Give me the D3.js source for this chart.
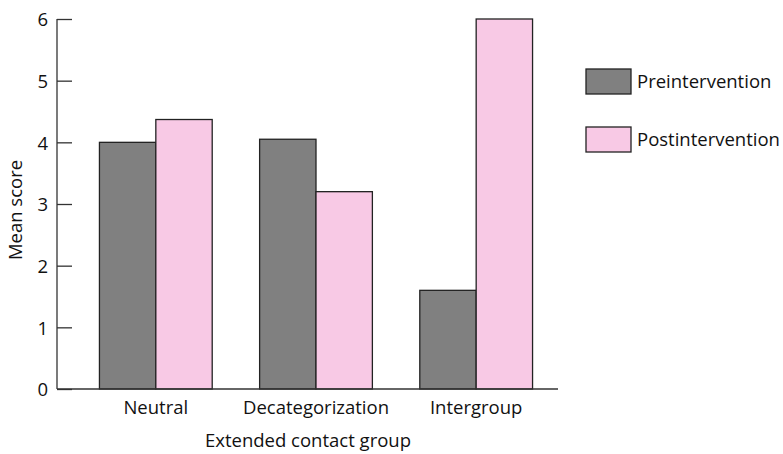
<!DOCTYPE html>
<html><head><meta charset="utf-8">
<script src="https://cdn.jsdelivr.net/npm/d3@7"></script>
<style>body{margin:0;background:#fff}svg text{font-family:"Open Sans",sans-serif;fill:#111}</style>
</head><body><svg id="c" width="783" height="454"></svg>
<script>
const categories = ["Neutral", "Decategorization", "Intergroup"];
const seriesNames = ["Preintervention", "Postintervention"];
const preValues = [4.0, 4.05, 1.6];
const postValues = [4.37, 3.2, 6.0];
const yTicks = [0, 1, 2, 3, 4, 5, 6];
const colors = ["#808080", "#f8c9e5"];
const FS = "18.5px";

const svg = d3.select("#c");
const x0 = 57, x1 = 575, yTop = 19, yBot = 389;
const x = d3.scaleBand().domain(categories).range([x0, x1]).paddingInner(0.296).paddingOuter(0.265);
const xs = d3.scaleBand().domain(seriesNames).range([0, x.bandwidth()]);
const y = d3.scaleLinear().domain([0, 6]).range([yBot, yTop]);

const vals = [preValues, postValues];
const g = svg.append("g");
categories.forEach((c, i) => {
  seriesNames.forEach((s, j) => {
    g.append("rect")
      .attr("x", x(c) + xs(s)).attr("y", y(vals[j][i]))
      .attr("width", xs.bandwidth()).attr("height", y(0) - y(vals[j][i]))
      .attr("fill", colors[j]).attr("stroke", "#222").attr("stroke-width", 1.3);
  });
});

// y axis
const ya = svg.append("g").attr("transform", `translate(${x0},0)`)
  .call(d3.axisRight(y).tickValues(yTicks).tickSize(15).tickFormat(d3.format("d")));
ya.select(".domain").remove();
ya.selectAll(".tick line").attr("stroke", "#333").attr("stroke-width", 1.3);
ya.selectAll(".tick text").attr("x", -9).attr("text-anchor", "end").attr("dy", "0.36em")
  .style("font-size", FS).style("font-family", "'Open Sans', sans-serif");
svg.append("line").attr("x1", x0).attr("x2", x0).attr("y1", yTop).attr("y2", yBot).attr("stroke", "#333").attr("stroke-width", 1.3);
svg.append("line").attr("x1", x0).attr("x2", 558).attr("y1", yBot).attr("y2", yBot).attr("stroke", "#333").attr("stroke-width", 1.3);

// x labels
categories.forEach(c => {
  svg.append("text").attr("x", x(c) + x.bandwidth() / 2).attr("y", 414)
    .attr("text-anchor", "middle").style("font-size", FS).text(c);
});
svg.append("text").attr("x", 308).attr("y", 447).attr("text-anchor", "middle").style("font-size", FS).text("Extended contact group");
svg.append("text").attr("transform", "translate(22,210) rotate(-90)").attr("text-anchor", "middle").style("font-size", FS).text("Mean score");

// legend
const lg = svg.append("g");
seriesNames.forEach((s, j) => {
  const ly = 69 + j * 58;
  lg.append("rect").attr("x", 586).attr("y", ly).attr("width", 45).attr("height", 25)
    .attr("fill", colors[j]).attr("stroke", "#222").attr("stroke-width", 1.3);
  lg.append("text").attr("x", 637).attr("y", ly + 19).style("font-size", FS).text(s);
});
</script></body></html>
